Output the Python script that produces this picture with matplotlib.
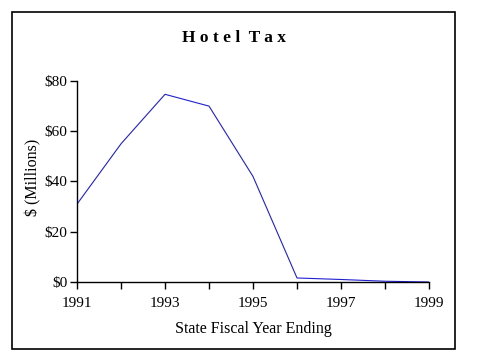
import matplotlib
matplotlib.use("Agg")
import matplotlib.pyplot as plt
from matplotlib.patches import Rectangle

# data
years = [1991, 1992, 1993, 1994, 1995, 1996, 1997, 1998, 1999]
tax = [31, 55, 74.7, 70, 42, 1.6, 1.0, 0.3, 0]

plt.rcParams['font.family'] = 'Liberation Serif'

fig = plt.figure(figsize=(4.79, 3.59), dpi=100)
ax = fig.add_axes([0.1608, 0.2145, 0.8956 - 0.1608, 0.7744 - 0.2145])

ax.plot(years, tax, color='#2020d0', lw=0.8)

ax.set_xlim(1991, 1999)
ax.set_ylim(0, 80)
ax.set_xticks(years)
ax.set_xticklabels([str(y) if (y - 1991) % 2 == 0 else '' for y in years])
ax.set_yticks([0, 20, 40, 60, 80])
ax.set_yticklabels(['$0', '$20', '$40', '$60', '$80'])
ax.tick_params(labelsize=11, length=5, width=1, color='black', direction='out')
ax.tick_params(axis='x', pad=6)
ax.tick_params(axis='y', pad=2)

for s in ['top', 'right']:
    ax.spines[s].set_visible(False)
for s in ['left', 'bottom']:
    ax.spines[s].set_linewidth(1)

ax.set_xlabel('State Fiscal Year Ending', fontsize=11.5, labelpad=8)
ax.set_ylabel('$ (Millions)', fontsize=11.5, labelpad=2)
ax.yaxis.label.set_y(0.52)

fig.text(0.489, 0.893, 'H o t e l  T a x', ha='center', va='center',
         fontsize=12.5, fontweight='bold')

# outer border
fig.patches.append(Rectangle((12 / 479, 1 - 349 / 359), (455 - 12) / 479,
                             (349 - 12) / 359, transform=fig.transFigure,
                             fill=False, edgecolor='black', lw=1.2))

fig.savefig('out.png', dpi=100)
